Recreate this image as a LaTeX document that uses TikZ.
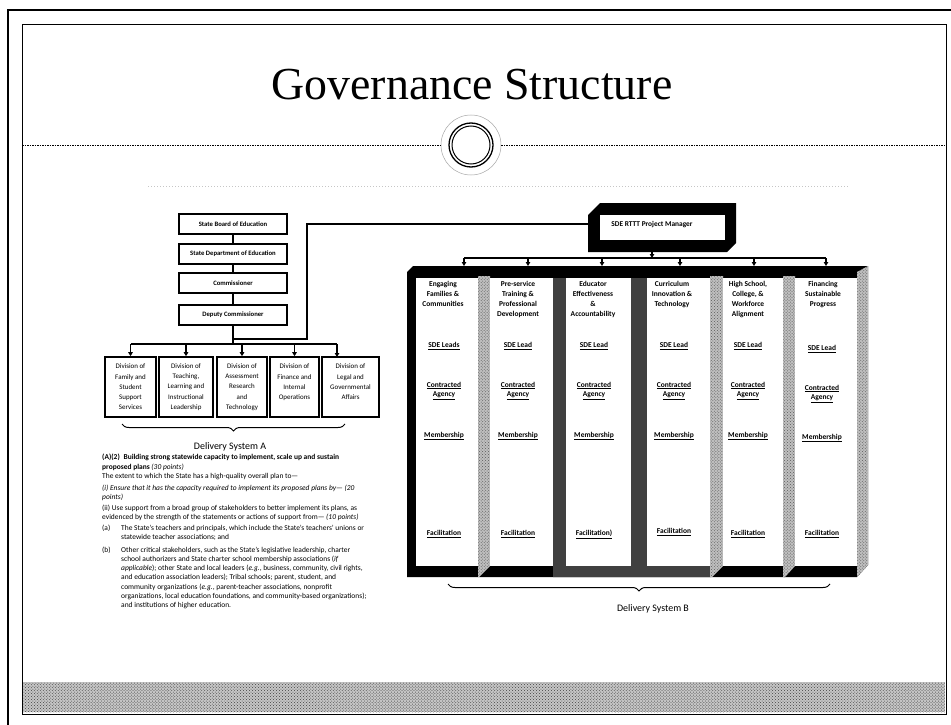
\documentclass[tikz,border=0pt]{standalone}
\usepackage{fontspec}
\setmainfont{Carlito}
\newfontfamily\titlefont{Liberation Serif}
\usetikzlibrary{arrows.meta,decorations.pathreplacing,patterns,calc}
\begin{document}
\begin{tikzpicture}[x=1bp,y=-1bp,
  conn/.style={line width=1.1bp},
  arr/.style={conn,-{Triangle[length=4bp,width=4.5bp]}},
  topbox/.style={draw,line width=1.6bp,minimum width=108bp,minimum height=20bp,inner sep=0,font=\fontsize{6.7}{8}\selectfont\bfseries},
  divbox/.style={draw,line width=1.6bp,minimum height=60bp,inner sep=0,align=center,font=\fontsize{7}{10.25}\selectfont},
  colwhite/.style={fill=white,minimum height=288bp,inner sep=0},
  colhead/.style={anchor=north,align=center,inner sep=0,font=\fontsize{7.5}{10}\selectfont\bfseries},
  lab/.style={align=center,inner sep=0,font=\fontsize{7.5}{10}\selectfont\bfseries},
  granite/.style={fill=gray!50,postaction={pattern=crosshatch dots,pattern color=black!65}},
  darkpillar/.style={fill=black!75},
  bracestyle/.style={line width=1bp,decorate,decoration={brace,mirror,amplitude=7bp}},
  para/.style={anchor=north west,align=left,inner sep=0,font=\fontsize{7.5}{9.3}\selectfont}
]
\useasboundingbox (0,0) rectangle (951,725);
\fill[white] (0,0) rectangle (951,725);

% frames
\draw[line width=2.5bp] (8,725) -- (8,10) -- (951,10);
\draw[line width=1bp] (22,25) rectangle (946,714);
\fill[gray!45] (23,682) rectangle (945,712);
\fill[pattern=crosshatch dots,pattern color=black!75] (23,682) rectangle (945,712);

% title
\node[font=\titlefont\fontsize{46}{50}\selectfont,anchor=base,inner sep=0] (title) at (472,100) {Governance Structure};
\node[circle,draw=gray!70,line width=0.5bp,minimum size=60bp,inner sep=0] (ring) at (471,145) {};
\draw[line width=1.3bp] (ring.center) circle (22bp);
\draw[line width=1.0bp] (ring.center) circle (19bp);
\draw[dash pattern=on 1.5bp off 1bp,line width=0.8bp] (22,145) -- (ring.west);
\draw[dash pattern=on 1.5bp off 1bp,line width=0.8bp] (ring.east) -- (946,145);
\draw[gray!45,dash pattern=on 1bp off 2bp,line width=0.6bp] (148,186) -- (850,186);

% left chart
\node[topbox] (sb) at (233,224) {State Board of Education};
\node[topbox] (sd) at (233,254) {State Department of Education};
\node[topbox] (cm) at (233,283) {Commissioner};
\node[topbox] (dc) at (233,315) {Deputy Commissioner};
\draw[conn] (sb) -- (sd);
\draw[conn] (sd) -- (cm);
\draw[conn] (cm) -- (dc);

\node[divbox,minimum width=51bp] (d1) at (130.5,387) {Division of\\Family and\\Student\\Support\\Services};
\node[divbox,minimum width=54bp] (d2) at (186,387) {Division of\\Teaching,\\Learning and\\Instructional\\Leadership};
\node[divbox,minimum width=50bp] (d3) at (242,387) {Division of\\Assessment\\Research\\and\\Technology};
\node[divbox,minimum width=49bp] (d4) at (294.5,387) {Division of\\Finance and\\Internal\\Operations\\\mbox{}};
\node[divbox,minimum width=57bp] (d5) at (350.5,387) {Division of\\Legal and\\Governmental\\Affairs\\\mbox{}};
\coordinate (a5) at (337,357);
\draw[conn] (dc.south) -- (dc.south |- 0,344);
\draw[conn] (d1.north |- 0,344) -- (a5 |- 0,344);
\foreach \d in {d1,d2,d3,d4} \draw[arr] (\d.north |- 0,344) -- (\d.north);
\draw[arr] (a5 |- 0,344) -- (a5);

\draw[bracestyle] (122,424) -- (345,424);
\node[font=\fontsize{10}{12}\selectfont] (dsa) at (230,447) {Delivery System A};

% paragraph
\node[para] (txt) at (102,454) {%
\textbf{(A)(2)\enspace Building strong statewide capacity to implement, scale up and sustain}\\
\textbf{proposed plans} \textit{(30 points)}\\
The extent to which the State has a high-quality overall plan to—\\[3bp]
\textit{(i) Ensure that it has the capacity required to implement its proposed plans by— (20}\\
\textit{points)}\\[1.5bp]
(ii) Use support from a broad group of stakeholders to better implement its plans, as\\
evidenced by the strength of the statements or actions of support from— \textit{(10 points)}\\[1.5bp]
\makebox[19bp][l]{(a)}The State's teachers and principals, which include the State's teachers' unions or\\
\hspace*{19bp}statewide teacher associations; and\\[3bp]
\makebox[19bp][l]{(b)}Other critical stakeholders, such as the State's legislative leadership, charter\\
\hspace*{19bp}school authorizers and State charter school membership associations (\textit{if}\\
\hspace*{19bp}\textit{applicable}); other State and local leaders (\textit{e.g.}, business, community, civil rights,\\
\hspace*{19bp}and education association leaders); Tribal schools; parent, student, and\\
\hspace*{19bp}community organizations (\textit{e.g.}, parent-teacher associations, nonprofit\\
\hspace*{19bp}organizations, local education foundations, and community-based organizations);\\
\hspace*{19bp}and institutions of higher education.};

% project manager box
\node[minimum width=148bp,minimum height=49bp,inner sep=0] (pmf) at (662,227.5) {};
\fill[black] (588,215) -- (600,203) -- (736,203) -- (736,243) -- (727,252) -- (588,252) -- cycle;
\fill[white] (600,215) rectangle (725,240);
\node[font=\fontsize{7.4}{9}\selectfont\bfseries,inner sep=0] (pm) at (652,225) {SDE RTTT Project Manager};
\draw[conn] (dc.south |- 0,339) -- (307,339) -- (307,224) -- (pmf.west |- 0,224);

% delivery system B structure
\fill[black] (413,266) -- (868,266) -- (868,565) -- (857,577) -- (407,577) -- (407,272) -- cycle;
\fill[darkpillar] (553,278) -- (566,278) -- (566,566) -- (631,566) -- (631,278) -- (647,278) -- (647,566) -- (710,566) -- (710,577) -- (553,577) -- cycle;
\path[granite] (478,276) -- (490,276) -- (490,566) -- (479,577) -- (478,577) -- cycle;
\path[granite] (710,276) -- (723,276) -- (723,566) -- (712,577) -- (710,577) -- cycle;
\path[granite] (783,276) -- (795,276) -- (795,566) -- (785,577) -- (783,577) -- cycle;
\path[granite] (857,272) -- (868,266) -- (868,565) -- (857,577) -- cycle;

\node[colwhite,minimum width=62bp] (c1) at (447,422) {};
\node[colwhite,minimum width=63bp] (c2) at (521.5,422) {};
\node[colwhite,minimum width=65bp] (c3) at (598.5,422) {};
\node[colwhite,minimum width=63bp] (c4) at (678.5,422) {};
\node[colwhite,minimum width=60bp] (c5) at (753,422) {};
\node[colwhite,minimum width=62bp] (c6) at (826,422) {};

\coordinate (t1) at (464,266);
\coordinate (t2) at (528,266);
\coordinate (t3) at (602,266);
\coordinate (t4) at (680,266);
\coordinate (t5) at (754,266);
\coordinate (t6) at (826,266);
\draw[conn] (t1 |- 0,258) -- (t6 |- 0,258);
\draw[arr] (pm.south |- pmf.south) -- (pm.south |- 0,258);
\foreach \t in {t1,t2,t3,t4,t5,t6} \draw[arr] (\t |- 0,258) -- (\t);

\node[colhead] (h1) at (443,281) {Engaging\\Families \&\\Communities};
\node[colhead] (h2) at (518,281) {Pre-service\\Training \&\\Professional\\Development};
\node[colhead] (h3) at (593,281) {Educator\\Effectiveness\\\&\\Accountability};
\node[colhead] (h4) at (672,281) {Curriculum\\Innovation \&\\Technology};
\node[colhead] (h5) at (748,281) {High School,\\College, \&\\Workforce\\Alignment};
\node[colhead] (h6) at (823,281) {Financing\\Sustainable\\Progress};

\node[lab] (s1) at (444,346) {\underline{SDE Leads}};
\node[lab] (s2) at (518,346) {\underline{SDE Lead}};
\node[lab] (s3) at (594,346) {\underline{SDE Lead}};
\node[lab] (s4) at (674,346) {\underline{SDE Lead}};
\node[lab] (s5) at (748,346) {\underline{SDE Lead}};
\node[lab] (s6) at (822,349) {\underline{SDE Lead}};

\node[lab] (g1) at (444,391) {\underline{Contracted}\\\underline{Agency}};
\node[lab] (g2) at (518,391) {\underline{Contracted}\\\underline{Agency}};
\node[lab] (g3) at (594,391) {\underline{Contracted}\\\underline{Agency}};
\node[lab] (g4) at (674,391) {\underline{Contracted}\\\underline{Agency}};
\node[lab] (g5) at (748,391) {\underline{Contracted}\\\underline{Agency}};
\node[lab] (g6) at (822,394) {\underline{Contracted}\\\underline{Agency}};

\node[lab] (m1) at (444,436) {\underline{Membership}};
\node[lab] (m2) at (518,436) {\underline{Membership}};
\node[lab] (m3) at (594,436) {\underline{Membership}};
\node[lab] (m4) at (674,436) {\underline{Membership}};
\node[lab] (m5) at (748,436) {\underline{Membership}};
\node[lab] (m6) at (822,438) {\underline{Membership}};

\node[lab] (f1) at (444,534) {\underline{Facilitation}};
\node[lab] (f2) at (518,534) {\underline{Facilitation}};
\node[lab] (f3) at (594,534) {\underline{Facilitation)}};
\node[lab] (f4) at (674,532) {\underline{Facilitation}};
\node[lab] (f5) at (748,534) {\underline{Facilitation}};
\node[lab] (f6) at (822,534) {\underline{Facilitation}};

\draw[bracestyle] (448,584) -- (830,584);
\node[font=\fontsize{10}{12}\selectfont] (dsb) at (653,609) {Delivery System B};
\end{tikzpicture}
\end{document}
